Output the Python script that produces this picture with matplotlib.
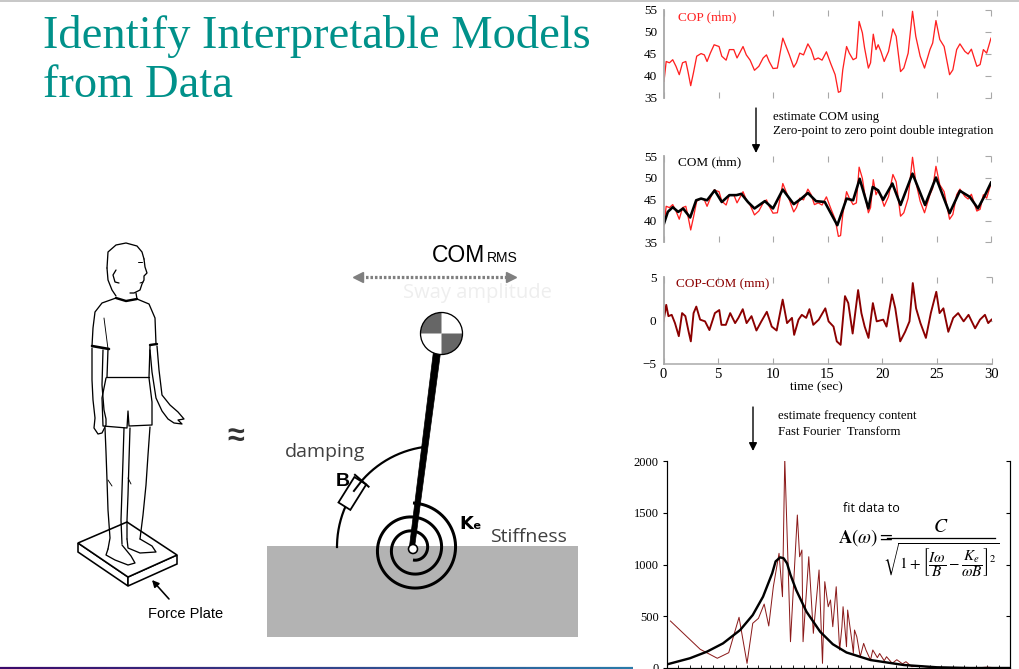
import numpy as np
import matplotlib
matplotlib.use("Agg")
import matplotlib.pyplot as plt
from matplotlib.patches import Polygon, Circle, Rectangle, Wedge
from matplotlib.collections import LineCollection

# ---------------- data ----------------
t_cop = [0.0, 0.2, 0.5, 0.8, 1.1, 1.4, 1.7, 2.0, 2.2, 2.45, 2.7, 3.0, 3.4, 3.7, 3.95, 4.25, 4.6,
         5.05, 5.3, 5.7, 6.0, 6.4, 6.7, 7.25, 7.55, 7.9, 8.3, 8.7, 9.1, 9.4, 9.65, 10.0, 10.4,
         10.9, 11.2, 11.5, 11.9, 12.15, 12.45, 12.8, 13.2, 13.5, 13.8, 14.15, 14.5, 14.9, 15.3,
         15.7, 16.0, 16.2, 16.4, 16.75, 17.0, 17.35, 17.65, 17.9, 18.2, 18.4, 18.75, 18.95,
         19.2, 19.45, 19.65, 19.9, 20.2, 20.6, 21.0, 21.3, 21.7, 22.0, 22.4, 22.8, 23.1, 23.5,
         23.9, 24.4, 24.65, 24.95, 25.3, 25.7, 26.2, 26.5, 26.85, 27.15, 27.6, 27.9, 28.2, 28.7,
         29.0, 29.3, 29.6, 30.0]
cop = [38.8, 43.3, 43.0, 43.7, 42.2, 40.3, 43.0, 43.3, 41.0, 37.8, 40.7, 44.5, 45.1, 44.8, 43.3,
       45.2, 47.1, 46.7, 44.5, 43.6, 46.0, 46.0, 44.1, 46.7, 44.8, 43.6, 41.3, 42.2, 44.1, 44.8,
       43.3, 41.7, 41.8, 48.6, 46.7, 44.8, 42.0, 43.0, 45.2, 44.8, 47.3, 46.0, 43.7, 44.1, 43.6,
       45.5, 42.8, 40.3, 36.3, 36.5, 41.4, 46.7, 45.2, 43.7, 44.1, 52.4, 49.8, 46.4, 41.8, 43.0,
       49.5, 46.0, 47.1, 45.6, 43.3, 45.6, 50.7, 49.0, 41.0, 41.8, 45.2, 54.7, 49.0, 44.5, 41.8,
       46.0, 47.5, 52.6, 48.3, 46.7, 40.3, 41.4, 46.0, 47.3, 45.6, 45.0, 46.1, 42.2, 42.6, 46.0,
       45.2, 48.6]

t_com = [0.0, 0.35, 0.8, 1.3, 1.75, 2.4, 2.95, 3.4, 3.95, 4.65, 5.3, 6.0, 6.65, 7.1, 7.7, 8.3,
         9.25, 10.0, 10.9, 11.9, 12.6, 13.2, 13.95, 14.75, 15.9, 16.75, 17.35, 17.95, 18.75,
         19.15, 19.65, 20.1, 20.95, 21.7, 22.8, 23.95, 24.95, 26.2, 27.15, 28.05, 28.8, 29.45, 30.0]
com = [39.3, 42.0, 43.1, 42.0, 42.8, 40.7, 44.7, 45.1, 44.7, 47.0, 44.3, 45.9, 45.9, 46.2, 44.3,
       42.8, 44.5, 42.8, 47.2, 43.8, 45.1, 46.4, 44.5, 44.3, 38.9, 45.1, 44.7, 49.7, 42.8, 47.8,
       47.0, 44.8, 48.6, 43.6, 50.9, 43.6, 50.0, 41.7, 46.9, 45.5, 42.8, 45.9, 48.8]

t_diff = [0.0, 0.25, 0.45, 0.75, 1.05, 1.4, 1.7, 2.0, 2.3, 2.5, 2.75, 3.0, 3.35, 3.8, 4.2, 4.7,
          5.1, 5.3, 5.7, 6.1, 6.55, 6.85, 7.25, 7.6, 8.05, 8.5, 8.95, 9.45, 9.9, 10.35, 10.9,
          11.3, 11.75, 11.95, 12.35, 12.65, 13.05, 13.35, 13.7, 14.2, 14.8, 15.1, 15.55, 15.85,
          16.2, 16.6, 16.9, 17.3, 17.8, 18.1, 18.4, 18.75, 19.15, 19.5, 20.1, 20.4, 20.9, 21.2,
          21.65, 22.1, 22.5, 22.8, 23.1, 23.5, 24.0, 24.45, 24.95, 25.25, 25.6, 26.05, 26.5,
          26.95, 27.45, 27.9, 28.5, 28.95, 29.4, 29.7, 30.0]
diff = [-0.1, 1.8, 0.5, 0.65, -0.3, -1.8, 0.85, 0.5, -1.3, -2.4, 0.85, 1.6, 0.1, -0.1, -1.1,
        0.85, 1.2, -0.5, -0.5, 0.85, -0.3, 0.3, 1.3, -0.3, 0.5, -1.15, -0.1, 1.0, -0.7, -1.15,
        2.4, -0.3, 0.3, -1.65, 0.1, 0.65, 0.3, 1.3, -0.5, 0.1, 1.4, -0.1, -0.7, -2.4, -2.8, 2.8,
        2.0, -1.5, 3.5, 0.85, -0.7, -2.0, 2.0, -0.1, 0.1, -0.7, 3.0, 1.4, -2.4, -1.3, -0.1, 4.3,
        1.4, -0.3, -2.0, 0.85, 3.3, 0.85, 1.4, -1.3, 0.3, 0.85, -0.1, 0.65, -0.9, 0.1, 0.65,
        -0.3, 0.1]

freq = [0.03, 0.29, 0.44, 0.54, 0.63, 0.70, 0.75, 0.80, 0.85, 0.89, 0.93, 0.98, 1.01, 1.03,
        1.08, 1.14, 1.16, 1.18, 1.19, 1.24, 1.28, 1.33, 1.36, 1.38, 1.41, 1.43, 1.45, 1.48,
        1.51, 1.53, 1.54, 1.57, 1.58, 1.62, 1.63, 1.64, 1.66, 1.69, 1.72, 1.74, 1.78, 1.80,
        1.84, 1.86, 1.90, 1.92, 1.97, 2.01, 2.06, 2.09, 2.14, 2.21, 2.30, 2.43, 2.56, 2.69,
        2.80, 2.91, 3.0]
amp = [454, 181, 94, 148, 490, 45, 432, 480, 618, 406, 785, 1108, 689, 2020, 254, 1478, 1075,
       1140, 254, 1075, 335, 947, 45, 834, 592, 657, 399, 785, 174, 399, 592, 206, 560, 238,
       142, 367, 302, 109, 238, 174, 77, 174, 100, 140, 70, 109, 45, 80, 40, 61, 13, 22, 5, 0,
       0, 0, 8, 0, 0]

fit_freq = [0.0, 0.20, 0.35, 0.49, 0.64, 0.75, 0.84, 0.92, 0.95, 0.99, 1.02, 1.05, 1.08, 1.13,
            1.22, 1.34, 1.45, 1.57, 1.78, 2.07, 2.36, 2.65, 3.0]
fit_amp = [35, 94, 158, 238, 367, 512, 689, 915, 1030, 1069, 1060, 1011, 900, 753, 544, 350,
           230, 150, 77, 29, 7, 0, 0]

ts_yticks = [35, 40, 45, 50, 55]
diff_yticks = [-5, 0, 5]
time_ticks = [0, 5, 10, 15, 20, 25, 30]
spec_yticks = [0, 500, 1000, 1500, 2000]

# ---------------- figure ----------------
W, H = 1020, 669
plt.rcParams['font.family'] = ['Liberation Serif', 'DejaVu Serif']
plt.rcParams['mathtext.fontset'] = 'stix'
fig = plt.figure(figsize=(W / 100, H / 100), dpi=100)
fig.patch.set_facecolor('white')

PT = 0.72  # pixels -> points


def pax(x0, y0, x1, y1, z=2):
    a = fig.add_axes([x0 / W, 1 - y1 / H, (x1 - x0) / W, (y1 - y0) / H])
    a.set_zorder(z)
    a.patch.set_alpha(0)
    return a


ov = fig.add_axes([0, 0, 1, 1])
ov.set_xlim(0, W)
ov.set_ylim(H, 0)
ov.axis('off')
ov.set_zorder(1)

SANS = ['Liberation Sans', 'DejaVu Sans']
OPEN = ['Open Sans', 'DejaVu Sans']
TEAL = '#00918A'

# top gray line and bottom gradient line
ov.plot([0, W], [1, 1], color='#c8c8c8', lw=2 * PT)
xs = np.linspace(0, 633, 60)
segs = [[(xs[i], 667.8), (xs[i + 1], 667.8)] for i in range(len(xs) - 1)]
c0 = np.array([0x3b, 0x0a, 0x6b]) / 255
c1 = np.array([0x2a, 0x7a, 0xa8]) / 255
cols = [tuple(c0 + (c1 - c0) * i / (len(segs) - 1)) for i in range(len(segs))]
ov.add_collection(LineCollection(segs, colors=cols, linewidths=2.2 * PT))

# title
ov.text(43, 48, 'Identify Interpretable Models', fontsize=33.5, color=TEAL, va='baseline')
ov.text(43, 97, 'from Data', fontsize=33.5, color=TEAL, va='baseline')

# ---------------- person drawing ----------------
LW = 1.3 * PT
def stroke(pts, lw=LW, color='black', z=3):
    p = np.array(pts, dtype=float)
    ov.plot(p[:, 0], p[:, 1], color=color, lw=lw, solid_capstyle='round',
            solid_joinstyle='round', zorder=z)

# force plate
L, B, R, F = (78, 543), (127, 522), (177, 555), (128, 577)
th = 9
ov.add_patch(Polygon([L, F, (F[0], F[1] + th), (L[0], L[1] + th)], closed=True,
                     facecolor='white', edgecolor='black', lw=1.6 * PT, zorder=2))
ov.add_patch(Polygon([F, R, (R[0], R[1] + th), (F[0], F[1] + th)], closed=True,
                     facecolor='white', edgecolor='black', lw=1.6 * PT, zorder=2))
ov.add_patch(Polygon([L, B, R, F], closed=True, facecolor='white', edgecolor='black',
                     lw=1.6 * PT, zorder=2))

# head
stroke([(107, 268), (108, 252), (116, 245), (126, 243), (137, 246), (142, 252), (144, 259)])
stroke([(144, 259), (145, 267), (147, 273), (144, 276), (144, 280), (142, 284), (140, 290),
        (134, 293), (130, 293)])
stroke([(107, 268), (108, 280), (112, 290), (116, 296)])
stroke([(116, 270), (113, 275), (115, 282), (119, 283)])
stroke([(136, 293), (137, 299)])
stroke([(138, 262), (142, 262)], lw=1.0 * PT)
stroke([(140, 283), (143, 282)], lw=1.0 * PT)
# shirt
stroke([(116, 298), (126, 301), (137, 299)], lw=2.4 * PT)
stroke([(116, 298), (102, 303), (95, 312), (93, 328), (92, 346)])
stroke([(137, 299), (149, 304), (155, 318), (156, 344)])
stroke([(92, 346), (109, 349)], lw=2.6 * PT)
stroke([(150, 345), (157, 344)], lw=2.4 * PT)
stroke([(108, 349), (107, 377)])
stroke([(150, 346), (149, 377)])
stroke([(106, 377), (149, 377)])
stroke([(104, 318), (108, 349)], lw=0.9 * PT)
# arms
stroke([(92, 348), (92, 380), (93, 400), (95, 418), (94, 428), (98, 434), (102, 433),
        (106, 425), (106, 419), (104, 410), (102, 385), (103, 350)])
stroke([(157, 346), (159, 370), (162, 395), (170, 405), (178, 412), (184, 419), (178, 420),
        (182, 424), (174, 423), (168, 419), (162, 411), (156, 398), (152, 372), (150, 350)])
# shorts
stroke([(106, 378), (102, 398), (103, 426), (127, 428), (128, 411), (129, 426), (152, 425),
        (152, 402), (149, 378)])
# legs
stroke([(105, 428), (106, 452), (107, 480), (108, 510), (110, 538), (108, 549)])
stroke([(124, 428), (123, 460), (122, 490), (121, 520), (122, 544)])
stroke([(130, 428), (129, 460), (128, 495), (127, 520), (127, 539)])
stroke([(150, 427), (148, 455), (146, 485), (143, 515), (140, 539)])
stroke([(108, 480), (112, 486)], lw=0.9 * PT)
stroke([(128, 478), (131, 484)], lw=0.9 * PT)
# feet
stroke([(108, 549), (106, 555), (115, 560), (128, 565), (135, 563), (131, 556), (122, 545)])
stroke([(127, 539), (128, 548), (140, 553), (156, 552), (152, 546), (140, 539)])

# force plate arrow + label
ov.annotate('', xy=(152, 580), xytext=(169, 599),
            arrowprops=dict(arrowstyle='-|>', color='black', lw=1.6 * PT,
                            mutation_scale=10, shrinkA=0, shrinkB=0))
ov.text(148, 618, 'Force Plate', fontsize=10.5, family=SANS, va='baseline')

# approx sign
ov.text(236, 437, '\u2248', fontsize=22, family=SANS, color='#333333', ha='center',
        va='center', fontweight='bold')

# ---------------- pendulum model ----------------
ov.add_patch(Rectangle((267, 546), 311, 91, facecolor='#B3B3B3', edgecolor='none', zorder=2))

# damping arc (circle centred (438,547) r=101)
cx, cy, rr = 438, 547, 101
ang = np.radians(np.linspace(98, 180, 200))
ov.plot(cx + rr * np.cos(ang), cy - rr * np.sin(ang), color='black', lw=2.2 * PT, zorder=3)
# dashpot box
a_box = np.radians(148)
bx, by = cx + rr * np.cos(a_box), cy - rr * np.sin(a_box)
tx, ty = np.sin(a_box), np.cos(a_box)  # tangent direction in pixel coords
nx, ny = np.cos(a_box), -np.sin(a_box)  # normal (outward)
hl, hw = 15, 7
box = [(bx - tx * hl - nx * hw, by - ty * hl - ny * hw), (bx + tx * hl - nx * hw, by + ty * hl - ny * hw),
       (bx + tx * hl + nx * hw, by + ty * hl + ny * hw), (bx - tx * hl + nx * hw, by - ty * hl + ny * hw)]
ov.add_patch(Polygon(box, closed=True, facecolor='white', edgecolor='black', lw=1.8 * PT, zorder=4))
# piston bar
a_bar = np.radians(139)
px_, py_ = cx + rr * np.cos(a_bar), cy - rr * np.sin(a_bar)
nbx, nby = np.cos(a_bar), -np.sin(a_bar)
ov.plot([px_ - nbx * 9, px_ + nbx * 9], [py_ - nby * 9, py_ + nby * 9], color='black',
        lw=2.0 * PT, zorder=5)
ov.plot([px_, bx + tx * hl * 0.2], [py_, by + ty * hl * 0.2], color='black', lw=2.0 * PT, zorder=5)

ov.text(285, 457, 'damping', fontsize=14, family=OPEN, color='#404040', va='baseline', zorder=6)
ov.text(336, 486, 'B', fontsize=14, family=SANS, fontweight='bold', va='baseline', zorder=6)

# spiral spring
sc = (413, 549)
th_s = np.radians(np.linspace(-90, 810, 900))
r_s = 11 + (46 - 11) * (th_s - th_s[0]) / (th_s[-1] - th_s[0])
ov.plot(sc[0] + r_s * np.cos(th_s), sc[1] - r_s * np.sin(th_s), color='black', lw=3.0 * PT,
        zorder=4, solid_capstyle='butt')

# rod (tapered)
top, bot = (437, 352), (412, 547)
ov.add_patch(Polygon([(top[0] - 3.6, top[1]), (top[0] + 3.6, top[1]), (bot[0] + 2.6, bot[1]),
                      (bot[0] - 2.6, bot[1])], closed=True, facecolor='black', edgecolor='black',
                     lw=0.5, zorder=5))
ov.add_patch(Circle(sc, 4.5, facecolor='white', edgecolor='black', lw=1.6 * PT, zorder=6))

# COM symbol (y axis is inverted: 180-270 = upper-left, 0-90 = lower-right)
mc = (441.5, 333.5)
ov.add_patch(Circle(mc, 21, facecolor='white', edgecolor='none', zorder=6))
ov.add_patch(Wedge(mc, 21, 180, 270, facecolor='#666666', edgecolor='none', zorder=6))
ov.add_patch(Wedge(mc, 21, 0, 90, facecolor='#666666', edgecolor='none', zorder=6))
ov.add_patch(Circle(mc, 21, facecolor='none', edgecolor='black', lw=1.3 * PT, zorder=7))

ov.text(459, 529, 'K\u2091', fontsize=13, family=['DejaVu Sans'], fontweight='bold',
        va='baseline', zorder=6)
ov.text(490, 542, 'Stiffness', fontsize=14, family=OPEN, color='#404040', va='baseline')

# COM RMS + dotted arrow
ov.text(432, 262, 'COM', fontsize=16.5, family=SANS, va='baseline')
ov.text(487, 262, 'RMS', fontsize=10, family=SANS, va='baseline')
ov.plot([361, 507], [277, 277], color='#7f7f7f', lw=3.2 * PT, ls=(0, (0.8, 0.6)), zorder=3)
ov.plot([358], [277], marker='<', color='#7f7f7f', ms=7, zorder=3)
ov.plot([511], [277], marker='>', color='#7f7f7f', ms=7, zorder=3)
ov.text(403, 298, 'Sway amplitude', fontsize=14.5, family=OPEN, color='#EEEEEE', va='baseline')

# ---------------- time series panels ----------------
RED = '#FF2020'
DRED = '#8B0000'
GRAY = '#A8A8A8'


def style_ts(a, yt, ylim, bottom_labels=False):
    a.set_xlim(0, 30)
    a.set_ylim(*ylim)
    a.set_yticks(yt)
    a.set_xticks(time_ticks)
    for s in ['top', 'right', 'bottom']:
        a.spines[s].set_visible(False)
    a.spines['left'].set_color(GRAY)
    a.spines['left'].set_linewidth(1.8 * PT)
    a.tick_params(axis='y', which='both', left=False, right=True, direction='in', length=4,
                  color=GRAY, labelsize=9.5, pad=5)
    a.tick_params(axis='x', which='both', top=True, bottom=True, direction='in', length=4,
                  color=GRAY, labelbottom=bottom_labels, labelsize=10.5, pad=3)


a1 = pax(664, 10, 991, 98)
a1.plot(t_cop, cop, color=RED, lw=1.3 * PT)
style_ts(a1, ts_yticks, (35, 55))
a1.text(1.3, 53.2, 'COP (mm)', color=RED, fontsize=9.5, va='center')

a2 = pax(664, 156, 991, 242)
a2.plot(t_cop, cop, color=RED, lw=1.3 * PT)
a2.plot(t_com, com, color='black', lw=2.6 * PT)
style_ts(a2, ts_yticks, (35, 55))
a2.text(1.3, 53.2, 'COM (mm)', color='black', fontsize=9.5, va='center')

a3 = pax(663.5, 277, 991.5, 364)
a3.plot(t_diff, diff, color=DRED, lw=1.9 * PT)
style_ts(a3, diff_yticks, (-5, 5), bottom_labels=True)
a3.spines['bottom'].set_visible(True)
a3.spines['bottom'].set_color(GRAY)
a3.spines['bottom'].set_linewidth(1.5 * PT)
a3.text(1.1, 4.2, 'COP-COM (mm)', color=DRED, fontsize=9.5, va='center')
a3.set_xlabel('time (sec)', fontsize=9.5, labelpad=2)
a3.xaxis.set_label_coords(0.465, -0.20)

# annotations between panels
ov.annotate('', xy=(756, 153), xytext=(756, 108),
            arrowprops=dict(arrowstyle='-|>', color='black', lw=1.4 * PT, mutation_scale=12,
                            shrinkA=0, shrinkB=0))
ov.text(773, 117, 'estimate COM using', fontsize=9.3, va='center')
ov.text(773, 131, 'Zero-point to zero point double integration', fontsize=9.3, va='center')
ov.annotate('', xy=(753, 451), xytext=(753, 407),
            arrowprops=dict(arrowstyle='-|>', color='black', lw=1.4 * PT, mutation_scale=12,
                            shrinkA=0, shrinkB=0))
ov.text(778, 416, 'estimate frequency content', fontsize=9.3, va='center')
ov.text(778, 432, 'Fast Fourier  Transform', fontsize=9.3, va='center')

# ---------------- spectrum ----------------
a4 = pax(667, 461, 1010, 668)
a4.plot(freq, amp, color='#8B1A1A', lw=1.0 * PT)
a4.plot(fit_freq, fit_amp, color='black', lw=2.4 * PT)
a4.set_xlim(0, 3)
a4.set_ylim(0, 2000)
a4.set_yticks(spec_yticks)
a4.set_xticks([])
a4.set_xticks(np.arange(0, 3.01, 0.1), minor=True)
a4.spines['top'].set_visible(False)
for s in ['left', 'right', 'bottom']:
    a4.spines[s].set_linewidth(1.2 * PT)
a4.tick_params(axis='y', left=True, right=True, direction='out', length=3, labelsize=9, pad=3)
a4.tick_params(axis='x', which='minor', bottom=True, direction='in', length=2.5)
for tk in a4.yaxis.get_major_ticks():
    tk.tick2line.set_marker(matplotlib.lines.TICKLEFT)

# fit formula, assembled from pieces
ov.text(843, 509, 'fit data to', fontsize=9, family=OPEN, va='center')
ov.text(838, 543, r'$\mathbf{A}(\omega)=$', fontsize=13.5, va='baseline', zorder=8)
ov.plot([887, 995], [538, 538], color='black', lw=1.3 * PT, zorder=8)
ov.text(941, 532, r'$C$', fontsize=14, ha='center', va='baseline', zorder=8)
ov.text(941, 541,
        r'$\sqrt{1+\left[\dfrac{I\omega}{B}-\dfrac{K_e}{\omega B}\right]^2}$',
        fontsize=11, ha='center', va='top', zorder=8)

fig.savefig('out.png', dpi=100, facecolor='white')
